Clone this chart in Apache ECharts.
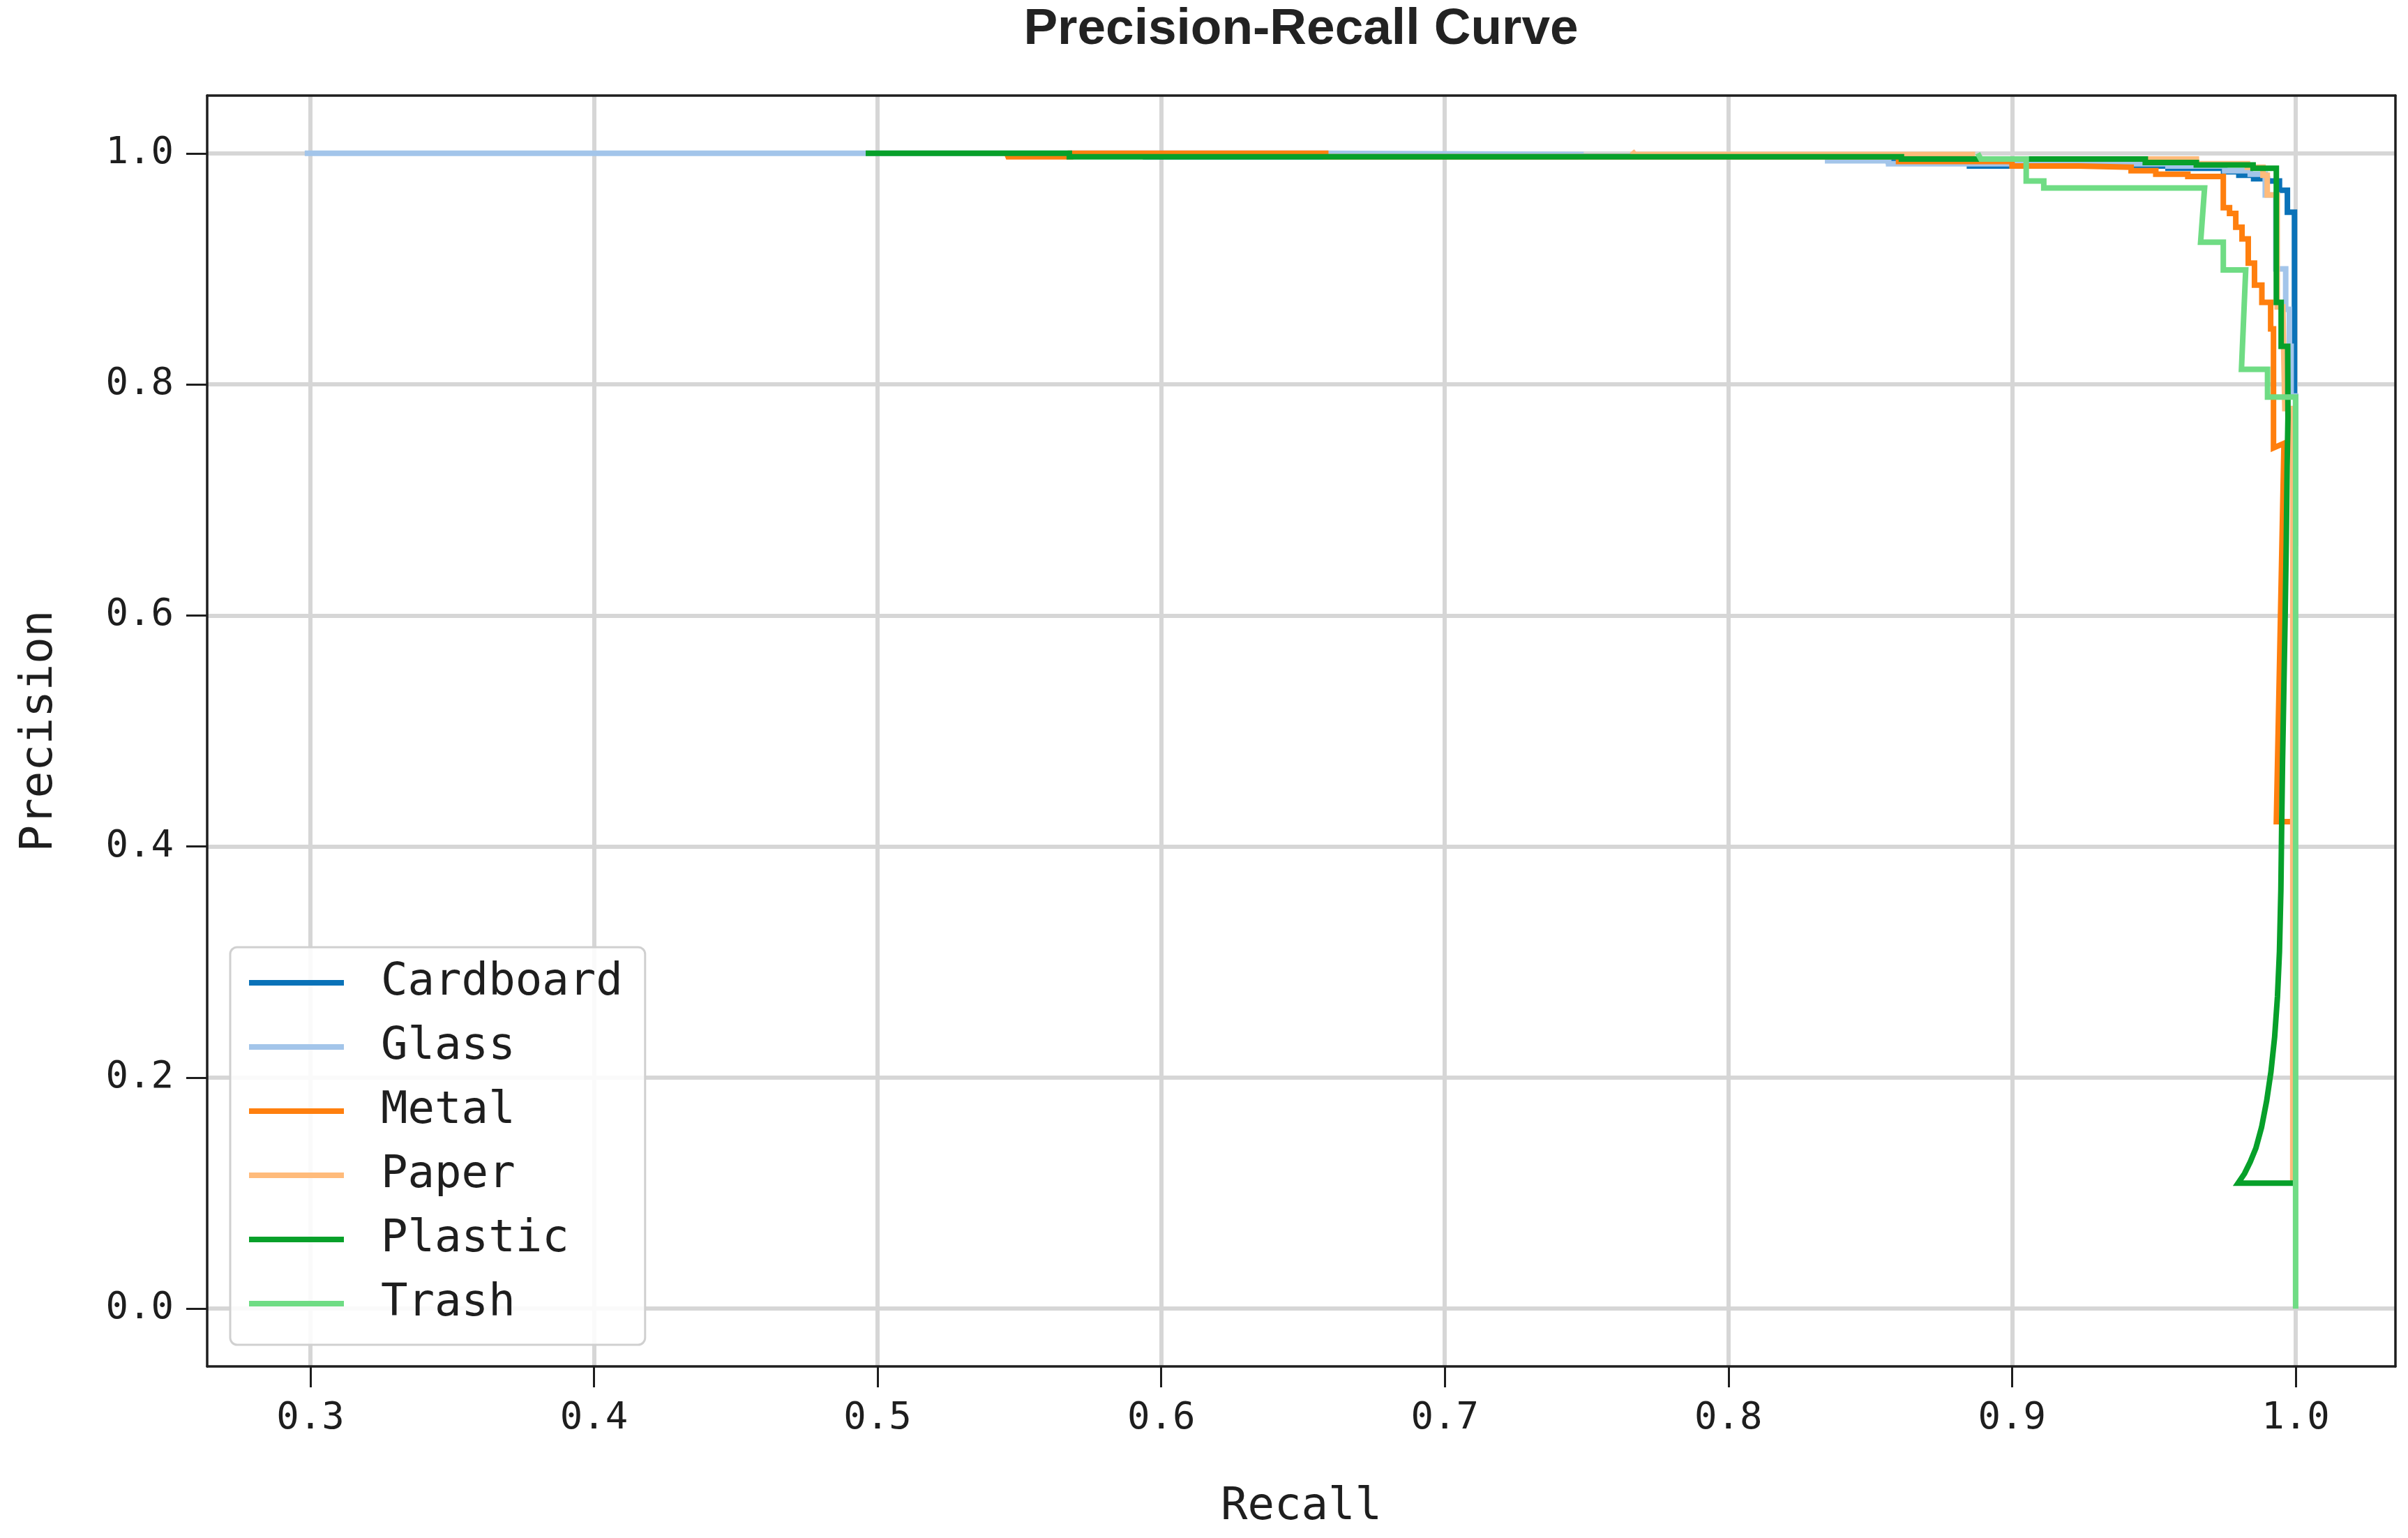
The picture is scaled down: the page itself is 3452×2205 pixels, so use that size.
<!DOCTYPE html>
<html>
<head>
<meta charset="utf-8">
<script src="https://cdn.jsdelivr.net/npm/echarts@6/dist/echarts.min.js"></script>
<style>
html,body{margin:0;padding:0;background:#fff;}
#chart{width:3452px;height:2205px;}
</style>
</head>
<body>
<div id="chart"></div>
<script>
// ---- data: [recall, precision] ----
const seriesNames = ['Cardboard', 'Glass', 'Metal', 'Paper', 'Plastic', 'Trash'];
const seriesColors = ['#0a72b8', '#a3c5ea', '#ff7f0e', '#ffbb7b', '#07a02a', '#6fdc84'];

const cardboardPts = [
  [0.5945,1.0],[0.5945,0.997],[0.8565,0.997],[0.8565,0.993],[0.885,0.993],[0.885,0.989],
  [0.955,0.989],[0.955,0.987],[0.9746,0.987],[0.9746,0.984],[0.980,0.984],[0.980,0.981],
  [0.9852,0.981],[0.9852,0.978],[0.990,0.978],[0.990,0.976],[0.9943,0.976],[0.9943,0.968],
  [0.9971,0.968],[0.9971,0.949],[0.9996,0.949],[0.9996,0.79]
];
const glassPts = [
  [0.298,1.0],[0.658,1.0],[0.658,0.999],[0.748,0.999],[0.748,0.997],[0.835,0.997],[0.835,0.9935],
  [0.8565,0.9935],[0.8565,0.991],[0.955,0.991],[0.955,0.989],[0.975,0.989],[0.975,0.985],
  [0.984,0.985],[0.984,0.982],[0.9893,0.982],[0.9893,0.964],[0.993,0.964],[0.993,0.90],
  [0.9965,0.90],[0.9965,0.865],[0.9978,0.865],[0.9978,0.833],[0.9984,0.833],[0.9984,0.79],
  [1.0,0.79],[1.0,0.66]
];
const metalPts = [
  [0.5455,1.0],[0.546,0.997],[0.568,0.997],[0.568,1.0],[0.658,1.0],[0.658,0.997],[0.86,0.997],
  [0.86,0.993],[0.90,0.993],[0.90,0.989],[0.9235,0.989],[0.9235,0.988],[0.942,0.988],[0.942,0.985],
  [0.9507,0.985],[0.9507,0.982],[0.962,0.982],[0.962,0.980],[0.9745,0.980],[0.9745,0.953],
  [0.9767,0.953],[0.9767,0.948],[0.9789,0.948],[0.9789,0.936],[0.9811,0.936],[0.9811,0.926],
  [0.9833,0.926],[0.9833,0.905],[0.9855,0.905],[0.9855,0.886],[0.9881,0.886],[0.9881,0.871],
  [0.9912,0.871],[0.9912,0.848],[0.9922,0.848],[0.9922,0.745],[0.9959,0.749],[0.9932,0.4215],
  [0.9985,0.4215]
];
const paperPts = [
  [0.766,1.002],[0.767,0.999],[0.886,0.999],[0.886,0.995],[0.965,0.995],[0.965,0.991],
  [0.983,0.991],[0.983,0.988],[0.9885,0.988],[0.9885,0.981],[0.990,0.981],[0.990,0.964],
  [0.9918,0.964],[0.9935,0.964],[0.9935,0.867],[0.9955,0.867],[0.9962,0.779],[0.999,0.779],
  [0.999,0.11]
];
const plasticPts = [
  [0.4958,1.0],[0.5676,1.0],[0.5676,0.997],[0.861,0.997],[0.861,0.995],[0.947,0.995],
  [0.947,0.992],[0.965,0.992],[0.965,0.990],[0.985,0.990],[0.985,0.987],[0.9932,0.987],
  [0.9932,0.871],[0.9949,0.871],[0.9949,0.833],[0.9972,0.833],[0.9973,0.771],[0.9970,0.728],
  [0.9967,0.663],[0.9963,0.599],[0.9958,0.529],[0.9954,0.475],[0.9951,0.4215],[0.9948,0.362],
  [0.9943,0.309],[0.9936,0.270],[0.9926,0.235],[0.9913,0.205],[0.9898,0.180],[0.9880,0.157],
  [0.9860,0.139],[0.9840,0.127],[0.9820,0.117],[0.9797,0.1086],[0.9995,0.1086]
];
const trashPts = [
  [0.8879,1.0],[0.889,0.995],[0.905,0.995],[0.905,0.976],[0.9112,0.976],[0.9112,0.970],
  [0.9679,0.970],[0.9665,0.923],[0.9745,0.923],[0.9745,0.899],[0.9824,0.899],[0.9809,0.813],
  [0.9901,0.813],[0.9901,0.789],[1.0,0.789],[1.0,0.0]
];
const seriesData = [cardboardPts, glassPts, metalPts, paperPts, plasticPts, trashPts];

const xTicks = [0.3, 0.4, 0.5, 0.6, 0.7, 0.8, 0.9, 1.0];
const yTicks = [0.0, 0.2, 0.4, 0.6, 0.8, 1.0];
const xRange = [0.2636, 1.0352];
const yRange = [-0.05, 1.05];

const mono = 'DejaVu Sans Mono';
const axisColor = '#1e1e1e';
const gridColor = '#d6d6d6';

const chart = echarts.init(document.getElementById('chart'));

function mainAxis(name, range, ticks, extra) {
  return Object.assign({
    type: 'value',
    min: range[0],
    max: range[1],
    name: name,
    nameLocation: 'middle',
    nameTextStyle: { fontFamily: mono, fontSize: 64, color: axisColor },
    axisLine: { show: true, onZero: false, lineStyle: { color: axisColor, width: 3.5 } },
    axisTick: { show: true, length: 30, customValues: ticks, lineStyle: { color: axisColor, width: 3 } },
    axisLabel: {
      customValues: ticks, margin: 48, fontFamily: mono, fontSize: 54, color: axisColor,
      formatter: v => Number(v).toFixed(1)
    },
    splitLine: { show: true, lineStyle: { color: gridColor, width: 6 } }
  }, extra);
}
function frameAxis(range, position) {
  return {
    type: 'value', min: range[0], max: range[1], position: position,
    axisLine: { show: true, onZero: false, lineStyle: { color: axisColor, width: 3.5 } },
    axisTick: { show: false }, axisLabel: { show: false }, splitLine: { show: false }
  };
}

const option = {
  animation: false,
  backgroundColor: '#ffffff',
  title: {
    text: 'Precision-Recall Curve',
    left: 1865,
    top: 6,
    textAlign: 'center',
    padding: 0,
    textStyle: { fontFamily: 'Liberation Sans', fontWeight: 'bold', fontSize: 73, color: '#222' }
  },
  grid: { left: 297, right: 18, top: 137, bottom: 246, containLabel: false },
  xAxis: [
    mainAxis('Recall', xRange, xTicks, { nameGap: 170 }),
    frameAxis(xRange, 'top')
  ],
  yAxis: [
    mainAxis('Precision', yRange, yTicks, { nameGap: 208 }),
    frameAxis(yRange, 'right')
  ],
  legend: {
    orient: 'vertical',
    left: 330,
    top: 1358,
    data: seriesNames,
    icon: 'rect',
    itemWidth: 136,
    itemHeight: 8,
    itemGap: 22,
    padding: [16, 32, 24, 27],
    backgroundColor: 'rgba(255,255,255,0.88)',
    borderColor: '#d0d0d0',
    borderWidth: 3,
    borderRadius: 10,
    textStyle: { fontFamily: mono, fontSize: 64, lineHeight: 70, color: axisColor, padding: [0, 0, 0, 48] }
  },
  series: seriesNames.map((n, i) => ({
    name: n,
    type: 'line',
    xAxisIndex: 0,
    yAxisIndex: 0,
    data: seriesData[i],
    color: seriesColors[i],
    showSymbol: false,
    symbol: 'none',
    lineStyle: { width: 8, color: seriesColors[i], join: 'miter' },
    clip: true
  }))
};
chart.setOption(option);
</script>
</body>
</html>
